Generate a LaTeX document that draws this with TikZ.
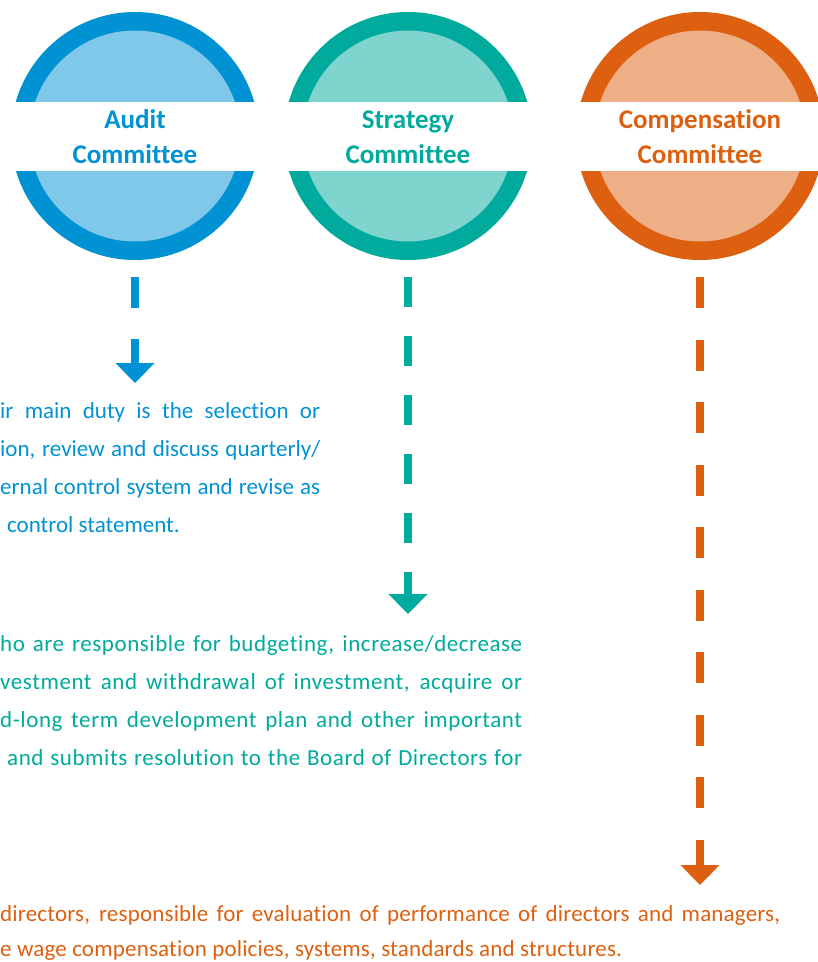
\documentclass[tikz,border=0pt]{standalone}
\usepackage{fontspec}
\setmainfont{Carlito}[Ligatures=NoCommon]
\usetikzlibrary{arrows.meta}
\definecolor{auditblue}{HTML}{0092D2}
\definecolor{strategyteal}{HTML}{00AA9D}
\definecolor{payorange}{HTML}{DD6010}
\begin{document}
\begin{tikzpicture}[x=1pt,y=-1pt,
        ring/.style={circle,minimum size=248pt,inner sep=0pt},
        title/.style={font=\bfseries\fontsize{27}{35}\selectfont,align=center,anchor=base,inner sep=0pt},
        desc/.style={font=\fontsize{23}{38}\selectfont,align=justify,anchor=base west,inner sep=0pt},
        flow/.style={line width=8pt,-{Triangle[width=38pt,length=20pt]}}]
    \useasboundingbox (0,0) rectangle (818,962);
    \clip (0,0) rectangle (818,962);
    \foreach \n/\x/\c/\t/\e/\d in {
            audit/135/auditblue/{Audit\\Committee}/383/31,
            strategy/408/strategyteal/{Strategy\\Committee}/614/29.5,
            pay/700/payorange/{Compensation\\Committee}/885/31.25}{
        \node[ring,fill=\c] (\n) at (\x,136) {};
        \fill[\c!50] (\n) circle (105.5);
        \fill[white] (\x-130,102) rectangle (\x+130,171);
        \node[title,text=\c] (\n-title) at (\x,163) {\t};
        \coordinate (\n-end) at (\x,\e);
        \draw[flow,\c,dash pattern=on \d pt off \d pt,shorten <=17pt] (\n.south) -- (\n-end);
    }
    \node[desc,text=auditblue,text width=320pt] (audit-duty) at (0,418)
        {ir main duty is the selection or\linebreak
         ion, review and discuss quarterly/\linebreak
         ernal control system and revise as\linebreak
         \hspace*{7pt}control statement.};
    \node[desc,text=strategyteal,text width=522pt] (strategy-duty) at (0,651)
        {\addfontfeatures{LetterSpace=2.5}%
         ho are responsible for budgeting, increase/decrease\linebreak
         vestment and withdrawal of investment, acquire or\linebreak
         d-long term development plan and other important\linebreak
         \hspace*{7pt}and submits resolution to the Board of Directors for\linebreak};
    \node[desc,text=payorange,text width=780pt,font=\fontsize{23}{35}\selectfont] (pay-duty) at (0,921)
        {\addfontfeatures{LetterSpace=0.8}%
         directors, responsible for evaluation of performance of directors and managers,\linebreak
         e wage compensation policies, systems, standards and structures.};
\end{tikzpicture}
\end{document}
